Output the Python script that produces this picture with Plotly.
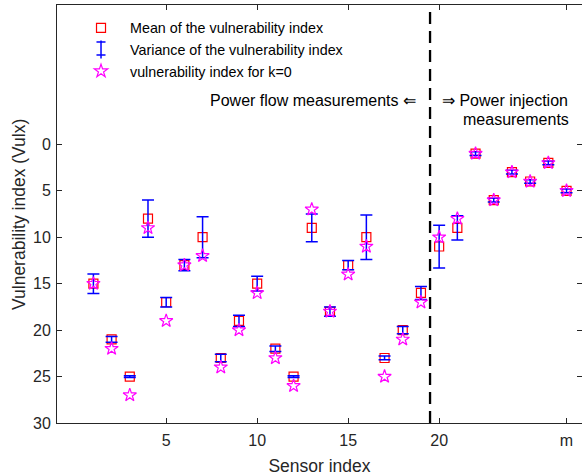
import plotly.graph_objects as go

# ── Data ──
sensor_idx = list(range(1, 28))
mean_vi = [15, 21, 25, 8, 17, 13, 10, 23, 19, 15, 22, 25, 9, 18,
           13, 10, 23, 20, 16, 11, 9, 1, 6, 3, 4, 2, 5]
var_vi = [1.05, 0.3, 0.1, 2.0, 0.5, 0.6, 2.2, 0.4, 0.6, 0.8, 0.3, 0.1, 1.5, 0.5,
          0.5, 2.4, 0.2, 0.4, 0.7, 2.3, 1.3, 0.2, 0.2, 0.2, 0.2, 0.2, 0.2]
vi_k0 = [15, 22, 27, 9, 19, 13, 12, 24, 20, 16, 23, 26, 7, 18,
         14, 11, 25, 21, 17, 10, 8, 1, 6, 3, 4, 2, 5]
x_tickvals = [5, 10, 15, 20, 27]
x_ticktext = ["5", "10", "15", "20", "m"]
y_tickvals = [0, 5, 10, 15, 20, 25, 30]
split_at = 19.5

FONT = "Liberation Sans, Arial, sans-serif"
AXC = "#262626"

fig = go.Figure()

# mean (red open squares)
fig.add_trace(go.Scatter(
    x=sensor_idx, y=mean_vi, mode="markers",
    marker=dict(symbol="square-open", size=9, color="red", line=dict(width=1.2)),
    name="Mean of the vulnerability index",
))
# error bars (variance), drawn above squares
fig.add_trace(go.Scatter(
    x=sensor_idx, y=mean_vi, mode="markers",
    marker=dict(size=1, color="rgba(0,0,0,0)"),
    error_y=dict(type="data", array=var_vi, visible=True,
                 color="blue", thickness=1.5, width=6),
    showlegend=False, hoverinfo="skip",
))
# legend entry for the error bars
fig.add_trace(go.Scatter(
    x=[None], y=[None], mode="markers",
    marker=dict(symbol="line-ns-open", size=13, color="blue",
                line=dict(width=1.5, color="blue")),
    name="Variance of the vulnerability index",
))
# k=0 (magenta open stars)
fig.add_trace(go.Scatter(
    x=sensor_idx, y=vi_k0, mode="markers",
    marker=dict(symbol="star-open", size=10, color="magenta", line=dict(width=1.2)),
    name="vulnerability index for k=0",
))

# split line
fig.add_shape(type="line", xref="x", yref="paper", x0=split_at, x1=split_at,
              y0=0, y1=1, line=dict(color="black", width=2.3, dash="12px,7px"))

# caps on the legend error-bar icon
for cy in (0.9115, 0.8804):
    fig.add_shape(type="line", xref="paper", yref="paper", x0=0.0752, x1=0.0924,
                  y0=cy, y1=cy, line=dict(color="blue", width=1.5))

fig.add_annotation(x=18.84, y=-4.77, xref="x", yref="y", xanchor="right",
                   text="Power flow measurements ⇐", showarrow=False,
                   font=dict(size=16, color="black"))
fig.add_annotation(x=20.05, y=-4.77, xref="x", yref="y", xanchor="left",
                   text="⇒ Power injection", showarrow=False,
                   font=dict(size=16, color="black"))
fig.add_annotation(x=21.2, y=-2.72, xref="x", yref="y", xanchor="left",
                   text="measurements", showarrow=False,
                   font=dict(size=16, color="black"))
# y axis title
fig.add_annotation(x=-0.0724, y=0.5, xref="paper", yref="paper",
                   xanchor="center", yanchor="middle", textangle=-90,
                   text="Vulnerability index (Vulx)", showarrow=False,
                   font=dict(size=17.5, color=AXC))

fig.update_layout(
    width=582, height=476,
    margin=dict(l=57, r=0, t=5, b=53),
    paper_bgcolor="white", plot_bgcolor="white",
    font=dict(family=FONT, color=AXC),
    showlegend=True,
    legend=dict(x=0.0286, y=0.983, xanchor="left", yanchor="top",
                bgcolor="rgba(0,0,0,0)", font=dict(size=14.3, color="black"),
                tracegroupgap=0, itemwidth=48),
    xaxis=dict(
        range=[-1, 27.85], tickvals=x_tickvals, ticktext=x_ticktext,
        ticks="inside", ticklen=5, tickcolor=AXC, showline=True, linecolor=AXC,
        linewidth=1, mirror="ticks", showgrid=False, zeroline=False,
        ticklabelstandoff=3,
        tickfont=dict(size=16), title=dict(text="Sensor index", font=dict(size=17.5), standoff=12),
    ),
    yaxis=dict(
        range=[30, -15], tickvals=y_tickvals,
        ticks="inside", ticklen=5, tickcolor=AXC, showline=True, linecolor=AXC,
        linewidth=1, mirror="ticks", showgrid=False, zeroline=False,
        ticklabelstandoff=2, tickfont=dict(size=16),
    ),
)

fig.write_html("out.html", config={"displayModeBar": False},
               post_script="document.body.style.margin='0';")
